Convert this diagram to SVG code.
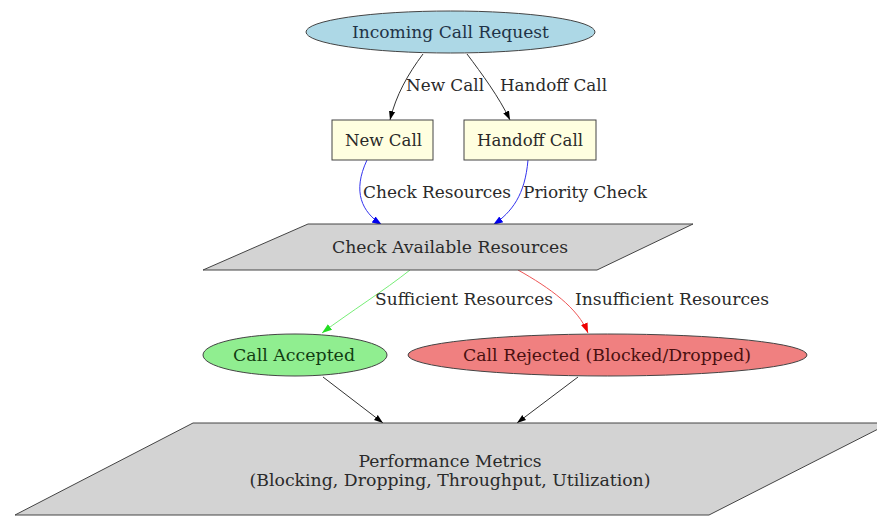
<svg xmlns="http://www.w3.org/2000/svg" width="877" height="518" viewBox="0 0 877 518">
<defs>
<style>
text{font-family:"DejaVu Serif","Liberation Serif",serif;font-size:16px;fill:#2a2a2a;}
.n{text-anchor:middle;}
.e{fill:none;stroke-width:1;}
.s{stroke:#444;stroke-width:1;}
</style>
<marker id="ab" viewBox="0 0 10 10" refX="10" refY="5" markerWidth="9" markerHeight="9" orient="auto" markerUnits="userSpaceOnUse"><path d="M0,1.5 L10,5 L0,8.5 z" fill="#000"/></marker>
<marker id="au" viewBox="0 0 10 10" refX="10" refY="5" markerWidth="10" markerHeight="10" orient="auto" markerUnits="userSpaceOnUse"><path d="M0,1.5 L10,5 L0,8.5 z" fill="#0000ee"/></marker>
<marker id="ag" viewBox="0 0 10 10" refX="10" refY="5" markerWidth="10" markerHeight="10" orient="auto" markerUnits="userSpaceOnUse"><path d="M0,1.5 L10,5 L0,8.5 z" fill="#22dd22"/></marker>
<marker id="ar" viewBox="0 0 10 10" refX="10" refY="5" markerWidth="10" markerHeight="10" orient="auto" markerUnits="userSpaceOnUse"><path d="M0,1.5 L10,5 L0,8.5 z" fill="#ee0000"/></marker>
</defs>
<rect width="877" height="518" fill="#fff"/>
<g id="connectors">
<path class="e" stroke="#333" d="M423,54 C408,74 396,95 390,120" marker-end="url(#ab)"/>
<path class="e" stroke="#333" d="M467,54 C482,74 499,97 510,120" marker-end="url(#ab)"/>
<path class="e" stroke="#3333ee" d="M367,160 C352,192 362,212 382,225" marker-end="url(#au)"/>
<path class="e" stroke="#3333ee" d="M528,160 C525,195 512,212 493,225" marker-end="url(#au)"/>
<path class="e" stroke="#77ee77" d="M410,270 C385,290 350,312 322,333" marker-end="url(#ag)"/>
<path class="e" stroke="#ee5555" d="M518,270 C550,288 578,308 588,333" marker-end="url(#ar)"/>
<path class="e" stroke="#333" d="M323,377 L383,423" marker-end="url(#ab)"/>
<path class="e" stroke="#333" d="M578,377 L517,423" marker-end="url(#ab)"/>
<text x="406" y="91" textLength="78" lengthAdjust="spacingAndGlyphs">New Call</text>
<text x="500" y="91" textLength="107" lengthAdjust="spacingAndGlyphs">Handoff Call</text>
<text x="363" y="198" textLength="148" lengthAdjust="spacingAndGlyphs">Check Resources</text>
<text x="523" y="198" textLength="124" lengthAdjust="spacingAndGlyphs">Priority Check</text>
<text x="375" y="305" textLength="178" lengthAdjust="spacingAndGlyphs">Sufficient Resources</text>
<text x="575" y="305" textLength="194" lengthAdjust="spacingAndGlyphs">Insufficient Resources</text>
</g>
<g id="incoming">
<ellipse class="s" cx="450.5" cy="32" rx="144.5" ry="21" fill="#add8e6"/>
<text class="n" x="450.5" y="38" textLength="197" lengthAdjust="spacingAndGlyphs" style="fill:#1f3347">Incoming Call Request</text>
</g>
<g id="newcall">
<rect class="s" x="332" y="120" width="101" height="40" fill="#ffffe0"/>
<text class="n" x="383.5" y="146" textLength="77" lengthAdjust="spacingAndGlyphs">New Call</text>
</g>
<g id="handoff">
<rect class="s" x="464" y="120" width="132" height="40" fill="#ffffe0"/>
<text class="n" x="530" y="146" textLength="106" lengthAdjust="spacingAndGlyphs">Handoff Call</text>
</g>
<g id="check">
<polygon class="s" points="308,224 693,224 597,270 203,270" fill="#d3d3d3"/>
<text class="n" x="450" y="253" textLength="236" lengthAdjust="spacingAndGlyphs">Check Available Resources</text>
</g>
<g id="accepted">
<ellipse class="s" cx="295" cy="355" rx="92" ry="21" fill="#90ee90"/>
<text class="n" x="294" y="361" textLength="122" lengthAdjust="spacingAndGlyphs" style="fill:#123d12">Call Accepted</text>
</g>
<g id="rejected">
<ellipse class="s" cx="607.5" cy="355" rx="199.5" ry="21" fill="#f08080"/>
<text class="n" x="607" y="361" textLength="288" lengthAdjust="spacingAndGlyphs" style="fill:#4a1010">Call Rejected (Blocked/Dropped)</text>
</g>
<g id="metrics">
<polygon class="s" points="193,423 890,423 709,515 15,515" fill="#d3d3d3"/>
<text class="n" x="450" y="467" textLength="183" lengthAdjust="spacingAndGlyphs">Performance Metrics</text>
<text class="n" x="450" y="486" textLength="401" lengthAdjust="spacingAndGlyphs">(Blocking, Dropping, Throughput, Utilization)</text>
</g>
</svg>
